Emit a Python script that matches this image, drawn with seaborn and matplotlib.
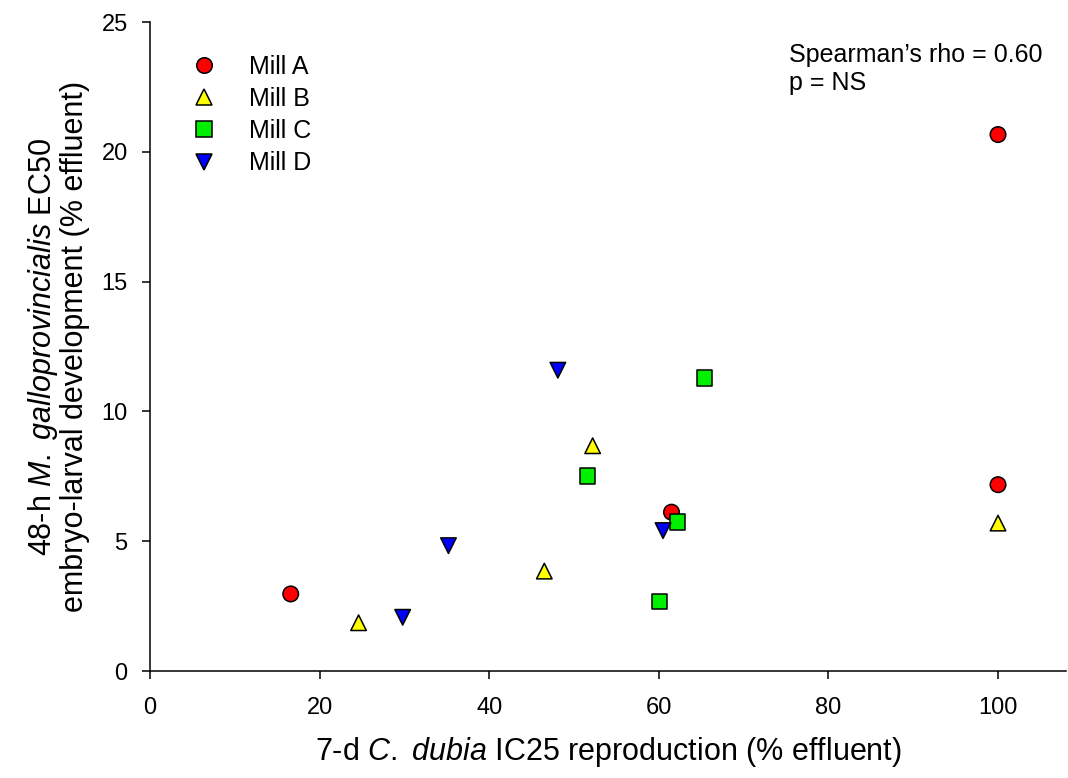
import pandas as pd
import numpy as np
import matplotlib
matplotlib.use('Agg')
import matplotlib.pyplot as plt
import seaborn as sns

# values
mill_a_x = [16.6, 61.5, 100.0, 100.0]
mill_a_y = [2.97, 6.12, 20.67, 7.18]
mill_b_x = [24.6, 46.5, 52.2, 100.0]
mill_b_y = [1.86, 3.85, 8.68, 5.70]
mill_c_x = [51.6, 60.1, 62.2, 65.4]
mill_c_y = [7.51, 2.67, 5.75, 11.29]
mill_d_x = [29.8, 35.2, 48.1, 60.5]
mill_d_y = [2.07, 4.83, 11.59, 5.41]

mills = ['Mill A', 'Mill B', 'Mill C', 'Mill D']
x_ticks = [0, 20, 40, 60, 80, 100]
y_ticks = [0, 5, 10, 15, 20, 25]

df = pd.DataFrame({
    'x': mill_a_x + mill_b_x + mill_c_x + mill_d_x,
    'y': mill_a_y + mill_b_y + mill_c_y + mill_d_y,
    'Mill': ['Mill A'] * 4 + ['Mill B'] * 4 + ['Mill C'] * 4 + ['Mill D'] * 4,
})

sns.set_style('ticks')
plt.rcParams['font.family'] = ['Liberation Sans', 'DejaVu Sans']
plt.rcParams['mathtext.fontset'] = 'custom'
plt.rcParams['mathtext.rm'] = 'Liberation Sans'
plt.rcParams['mathtext.it'] = 'Liberation Sans:italic'
plt.rcParams['text.color'] = 'black'
plt.rcParams['axes.labelcolor'] = 'black'

palette = {'Mill A': '#ff0000', 'Mill B': '#ffff00', 'Mill C': '#00f000', 'Mill D': '#0000ff'}
markers = {'Mill A': 'o', 'Mill B': '^', 'Mill C': 's', 'Mill D': 'v'}

fig = plt.figure(figsize=(10.68, 7.78), dpi=100)
ax = fig.add_axes([0.1404, 0.1375, 0.8576, 0.834])

sns.scatterplot(data=df, x='x', y='y', hue='Mill', style='Mill', hue_order=mills,
                style_order=mills, palette=palette, markers=markers, s=125,
                edgecolor='black', linewidth=1.1, ax=ax, zorder=3)

ax.set_xlim(0, 108)
ax.set_ylim(0, 25)
ax.set_xticks(x_ticks)
ax.set_yticks(y_ticks)
ax.tick_params(labelsize=17, direction='out', length=6, width=1.1, colors='black')
ax.tick_params(axis='x', pad=13)
ax.tick_params(axis='y', pad=10)
for s in ['top', 'right']:
    ax.spines[s].set_visible(False)
for s in ['left', 'bottom']:
    ax.spines[s].set_linewidth(1.1)
    ax.spines[s].set_color('black')

ax.set_xlabel('7-d $\\it{C.}$ $\\it{dubia}$ IC25 reproduction (% effluent)', fontsize=22, labelpad=11)
ax.set_ylabel('48-h $\\it{M.}$ $\\it{galloprovincialis}$ EC50\nembryo-larval development (% effluent)',
              fontsize=22, labelpad=8, linespacing=1.0)

handles, labels = ax.get_legend_handles_labels()
ax.legend(handles, labels, loc='upper left', bbox_to_anchor=(0.0453, 0.950), frameon=False,
          fontsize=18, handlelength=1.0, handletextpad=1.3, labelspacing=0.33,
          borderpad=0, borderaxespad=0, markerscale=1.0)

ax.text(0.698, 0.968, 'Spearman\u2019s rho = 0.60\np = NS', transform=ax.transAxes,
        fontsize=18, ha='left', va='top', linespacing=1.2)

fig.savefig('out.png', dpi=100)
